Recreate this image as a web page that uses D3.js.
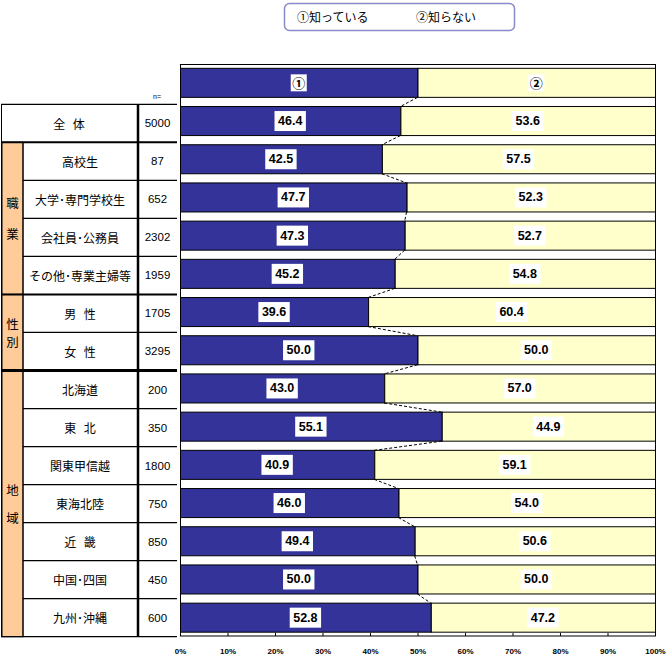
<!DOCTYPE html>
<html><head><meta charset="utf-8">
<script src="https://cdn.jsdelivr.net/npm/d3@7"></script>
<style>body{margin:0;background:#fff}svg{display:block}</style>
</head><body>
<script>
const categories = ["全 体","高校生","大学･専門学校生","会社員･公務員","その他･専業主婦等","男 性","女 性","北海道","東 北","関東甲信越","東海北陸","近 畿","中国･四国","九州･沖縄"];
const sampleSizes = [5000,87,652,2302,1959,1705,3295,200,350,1800,750,850,450,600];
const knowValues = [46.4,42.5,47.7,47.3,45.2,39.6,50.0,43.0,55.1,40.9,46.0,49.4,50.0,52.8];
const notKnowValues = [53.6,57.5,52.3,52.7,54.8,60.4,50.0,57.0,44.9,59.1,54.0,50.6,50.0,47.2];
const seriesNames = ["①知っている","②知らない"];
const headerMarks = ["①","②"];
const headerValues = [50,50];
const groups = [{name:"職業",first:1,last:4},{name:"性別",first:5,last:6},{name:"地域",first:7,last:13}];
const tickValues = [0,10,20,30,40,50,60,70,80,90,100];

const W=667,H=658;
const svg=d3.select("body").append("svg").attr("width",W).attr("height",H);
const jp='"Noto Sans CJK JP","Noto Sans",sans-serif';
const num='"Liberation Sans",Arial,sans-serif';
const BLUE="#333399",YEL="#FFFFCC",ORG="#FFCC99";

const rows=["__header__",...categories];
const x=d3.scaleLinear().domain([0,100]).range([180,655]);
const y=d3.scaleBand().domain(rows).range([64.5,636]).paddingInner(0.24).paddingOuter(0.1);
const ty=d3.scaleBand().domain(categories).range([104.3,636.7]);

// legend
svg.append("rect").attr("x",284.5).attr("y",3.5).attr("width",230).attr("height",27).attr("rx",5)
  .attr("fill","#fff").attr("stroke","#8a8ac8").attr("stroke-width",1.5);
svg.append("text").attr("x",297).attr("y",22).attr("font-family",jp).attr("font-size",12).text(seriesNames[0]);
svg.append("text").attr("x",416).attr("y",22).attr("font-family",jp).attr("font-size",12).text(seriesNames[1]);

// plot frame
svg.append("rect").attr("x",x(0)+0.5).attr("y",64.5).attr("width",x(100)-x(0)).attr("height",636-64.5)
  .attr("fill","#fff").attr("stroke","#000");

// bar data
const barData=[{key:"__header__",a:headerValues[0],b:headerValues[1],la:headerMarks[0],lb:headerMarks[1],hdr:true}]
  .concat(categories.map((c,i)=>({key:c,a:knowValues[i],b:notKnowValues[i],la:knowValues[i].toFixed(1),lb:notKnowValues[i].toFixed(1),hdr:false})));

const g=svg.append("g");
const bw=y.bandwidth();
g.selectAll("rect.a").data(barData).join("rect").attr("x",x(0)+0.5).attr("y",d=>y(d.key))
  .attr("width",d=>x(d.a)-x(0)).attr("height",bw).attr("fill",BLUE).attr("stroke","#000");
g.selectAll("rect.b").data(barData).join("rect").attr("x",d=>x(d.a)+0.5).attr("y",d=>y(d.key))
  .attr("width",d=>x(d.a+d.b)-x(d.a)).attr("height",bw).attr("fill",YEL).attr("stroke","#000");

// connectors
for(let i=0;i<barData.length-1;i++){
  const d0=barData[i],d1=barData[i+1];
  g.append("line").attr("x1",x(d0.a)).attr("y1",y(d0.key)+bw).attr("x2",x(d1.a)).attr("y2",y(d1.key))
    .attr("stroke","#000").attr("stroke-dasharray","3,2");
}

// value labels
function label(d,text,cx){
  const cy=y(d.key)+bw/2;
  const t=g.append("text").attr("x",cx).attr("y",cy).attr("text-anchor","middle").attr("dominant-baseline","central")
    .attr("font-family",d.hdr?jp:num).attr("font-weight","bold").attr("font-size",d.hdr?13:12.5).text(text);
  const bb=t.node().getBBox();
  const h=d.hdr?17:20, w=bb.width+(d.hdr?3:7);
  g.insert("rect","text").attr("x",cx-w/2).attr("y",cy-h/2).attr("width",w).attr("height",h).attr("fill","#fff");
  t.raise();
}
barData.forEach(d=>{
  label(d,d.la,(x(0)+x(d.a))/2);
  label(d,d.lb,(x(d.a)+x(d.a+d.b))/2);
});

// axis
const ax=svg.append("g").attr("transform","translate(0,636)")
  .call(d3.axisBottom(x).tickValues(tickValues).tickFormat(v=>v+"%").tickSizeInner(-3).tickSizeOuter(0).tickPadding(12));
ax.select(".domain").remove();
ax.selectAll("text").attr("font-family",num).attr("font-weight","bold").attr("font-size",8).attr("fill","#000");

// table
const T=svg.append("g");
groups.forEach(gr=>{
  const top=ty(categories[gr.first]), bot=ty(categories[gr.last])+ty.step();
  T.append("rect").attr("x",2).attr("y",top).attr("width",21).attr("height",bot-top).attr("fill",ORG).attr("stroke","#000");
  const gap={"職業":31,"性別":18,"地域":28}[gr.name];
  const mid=(top+bot)/2;
  [...gr.name].forEach((ch,k)=>{
    T.append("text").attr("x",12.5).attr("y",mid+(k-0.5)*gap).attr("text-anchor","middle").attr("dominant-baseline","central")
      .attr("font-family",jp).attr("font-size",12.5).text(ch);
  });
});
categories.forEach((c,i)=>{
  const top=ty(c);
  const isGroupStart=i===0||groups.some(gr=>gr.first===i);
  T.append("line").attr("x1",isGroupStart?1:23).attr("x2",177).attr("y1",top).attr("y2",top)
    .attr("stroke","#000").attr("stroke-width",i===7?3:(isGroupStart&&i>0?2:1.2));
});
T.append("line").attr("x1",1).attr("x2",177).attr("y1",636.7).attr("y2",636.7).attr("stroke","#000").attr("stroke-width",1.2);
T.append("line").attr("x1",1.5).attr("x2",1.5).attr("y1",104.3).attr("y2",636.7).attr("stroke","#000");
T.append("line").attr("x1",23).attr("x2",23).attr("y1",ty(categories[1])).attr("y2",636.7).attr("stroke","#000");
T.append("line").attr("x1",138).attr("x2",138).attr("y1",104.3).attr("y2",636.7).attr("stroke","#000").attr("stroke-width",2.5);
categories.forEach((c,i)=>{
  const cy=ty(c)+ty.step()/2;
  T.append("text").attr("x",i===0?69:80).attr("y",cy).attr("text-anchor","middle").attr("dominant-baseline","central")
    .attr("font-family",jp).attr("font-size",12).attr("word-spacing",5).text(c);
  T.append("text").attr("x",157.5).attr("y",cy).attr("text-anchor","middle").attr("dominant-baseline","central")
    .attr("font-family",num).attr("font-size",11.5).text(sampleSizes[i]);
});
T.append("text").attr("x",157).attr("y",99).attr("text-anchor","middle").attr("font-family",num).attr("font-size",7).text("n=");
</script>
</body></html>
